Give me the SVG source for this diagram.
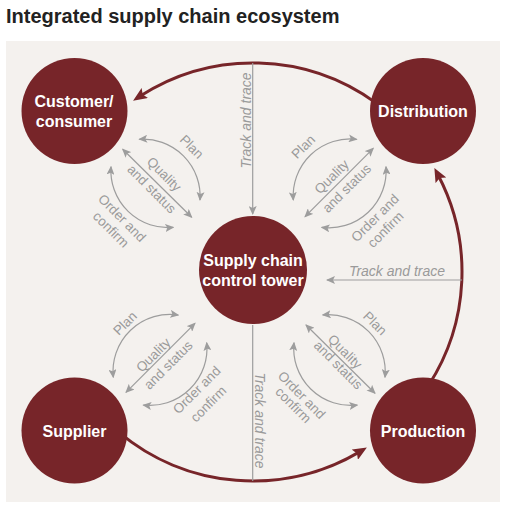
<svg xmlns="http://www.w3.org/2000/svg" width="512" height="512" viewBox="0 0 512 512">
<style>
.title{font-family:"Liberation Sans",Arial,sans-serif;font-weight:bold;font-size:20px;fill:#222}
.node{fill:#772529}
.nl{font-family:"Liberation Sans",Arial,sans-serif;font-weight:bold;font-size:16px;fill:#fff;text-anchor:middle}
.ring{fill:none;stroke:#772529;stroke-width:3}
.g{fill:none;stroke:#9d9d9d;stroke-width:1.2}
.gl{font-family:"Liberation Sans",Arial,sans-serif;font-size:13.5px;fill:#9a9a9a;text-anchor:middle}
.tt{font-family:"Liberation Sans",Arial,sans-serif;font-size:14px;font-style:italic;fill:#9a9a9a;text-anchor:middle}
</style>
<defs>
<marker id="ra" viewBox="0 0 14 12" refX="6" refY="6" markerWidth="14" markerHeight="12" markerUnits="userSpaceOnUse" orient="auto">
<path d="M0,0 L14,6 L0,12 L2.5,6 Z" fill="#772529"/>
</marker>
<marker id="ga" viewBox="0 0 9 8" refX="8" refY="4" markerWidth="9" markerHeight="8" markerUnits="userSpaceOnUse" orient="auto-start-reverse">
<path d="M0,0 L9,4 L0,8 L2,4 Z" fill="#9d9d9d"/>
</marker>
</defs>
<text class="title" x="6" y="23">Integrated supply chain ecosystem</text>
<rect x="6" y="41" width="494" height="461" fill="#f4f1ee"/>
<g id="connectors">
<path class="ring" d="M375.9,102.9 A209,209 0 0 0 139.8,96.3" marker-end="url(#ra)"/>
<path class="ring" d="M428.3,385.8 A209,209 0 0 0 438.1,175.0" marker-end="url(#ra)"/>
<path class="ring" d="M118.7,432.1 A209,209 0 0 0 360.0,451.6" marker-end="url(#ra)"/>
<path class="g" d="M252.7,63 L252.7,214" marker-end="url(#ga)"/>
<path class="g" d="M462,280 L327,280" marker-end="url(#ga)"/>
<path class="g" d="M252.7,481 L252.7,325"/>
<path class="g" d="M139.3,139.3 A57,57 0 0 1 200,200" marker-start="url(#ga)" marker-end="url(#ga)"/>
<path class="g" d="M122.7,149.3 L191.7,217.3" marker-start="url(#ga)" marker-end="url(#ga)"/>
<path class="g" d="M111,166.7 A57,57 0 0 0 173.3,227.3" marker-start="url(#ga)" marker-end="url(#ga)"/>
<path class="g" d="M293.3,200 A57,57 0 0 1 356.7,139.3" marker-start="url(#ga)" marker-end="url(#ga)"/>
<path class="g" d="M305,216.7 L373.3,148.3" marker-start="url(#ga)" marker-end="url(#ga)"/>
<path class="g" d="M321.7,227.3 A57,57 0 0 0 386,166.7" marker-start="url(#ga)" marker-end="url(#ga)"/>
<path class="g" d="M113.3,377.3 A57,57 0 0 1 178.3,315" marker-start="url(#ga)" marker-end="url(#ga)"/>
<path class="g" d="M195,323.3 L126,392.3" marker-start="url(#ga)" marker-end="url(#ga)"/>
<path class="g" d="M143.3,405 A57,57 0 0 0 206.7,342.7" marker-start="url(#ga)" marker-end="url(#ga)"/>
<path class="g" d="M322.7,315 A57,57 0 0 1 385,377.3" marker-start="url(#ga)" marker-end="url(#ga)"/>
<path class="g" d="M306,325 L375,393.3" marker-start="url(#ga)" marker-end="url(#ga)"/>
<path class="g" d="M294,342.7 A57,57 0 0 0 357.3,405" marker-start="url(#ga)" marker-end="url(#ga)"/>
<text class="tt" transform="translate(250.7,120.5) rotate(-90)">Track and trace</text>
<text class="tt" x="397" y="276">Track and trace</text>
<text class="tt" transform="translate(255,420.5) rotate(90)">Track and trace</text>
<g transform="translate(191.7,146.7) rotate(45)"><text class="gl" y="4.6">Plan</text></g>
<g transform="translate(164.2,174.2) rotate(45)"><text class="gl" y="4.6">Quality</text></g>
<g transform="translate(151.7,189) rotate(45)"><text class="gl" y="4.6">and status</text></g>
<g transform="translate(122,218) rotate(45)"><text class="gl" y="4.6">Order and</text></g>
<g transform="translate(111,229.5) rotate(45)"><text class="gl" y="4.6">confirm</text></g>
<g transform="translate(303.3,146.7) rotate(-45)"><text class="gl" y="4.6">Plan</text></g>
<g transform="translate(331.7,176.7) rotate(-45)"><text class="gl" y="4.6">Quality</text></g>
<g transform="translate(346.7,188.3) rotate(-45)"><text class="gl" y="4.6">and status</text></g>
<g transform="translate(375,218) rotate(-45)"><text class="gl" y="4.6">Order and</text></g>
<g transform="translate(385.5,229.5) rotate(-45)"><text class="gl" y="4.6">confirm</text></g>
<g transform="translate(125,323.3) rotate(-45)"><text class="gl" y="4.6">Plan</text></g>
<g transform="translate(153.3,355) rotate(-45)"><text class="gl" y="4.6">Quality</text></g>
<g transform="translate(168.3,365) rotate(-45)"><text class="gl" y="4.6">and status</text></g>
<g transform="translate(196.7,390) rotate(-45)"><text class="gl" y="4.6">Order and</text></g>
<g transform="translate(208.3,404) rotate(-45)"><text class="gl" y="4.6">confirm</text></g>
<g transform="translate(375,323.3) rotate(45)"><text class="gl" y="4.6">Plan</text></g>
<g transform="translate(345,351.7) rotate(45)"><text class="gl" y="4.6">Quality</text></g>
<g transform="translate(338.3,365) rotate(45)"><text class="gl" y="4.6">and status</text></g>
<g transform="translate(301.7,395) rotate(45)"><text class="gl" y="4.6">Order and</text></g>
<g transform="translate(293.3,405) rotate(45)"><text class="gl" y="4.6">confirm</text></g>
</g>
<g id="node-customer"><circle class="node" cx="74.5" cy="111" r="53"/><text class="nl" x="74" y="107">Customer/</text><text class="nl" x="74" y="126.7">consumer</text></g>
<g id="node-distribution"><circle class="node" cx="423" cy="111" r="53"/><text class="nl" x="423" y="117">Distribution</text></g>
<g id="node-supplier"><circle class="node" cx="74.5" cy="430.5" r="53"/><text class="nl" x="74.5" y="436.7">Supplier</text></g>
<g id="node-production"><circle class="node" cx="423" cy="430.5" r="53"/><text class="nl" x="423" y="436.7">Production</text></g>
<g id="node-tower"><circle class="node" cx="253" cy="270" r="54"/><text class="nl" x="253" y="266">Supply chain</text><text class="nl" x="253" y="285.5">control tower</text></g>
</svg>
